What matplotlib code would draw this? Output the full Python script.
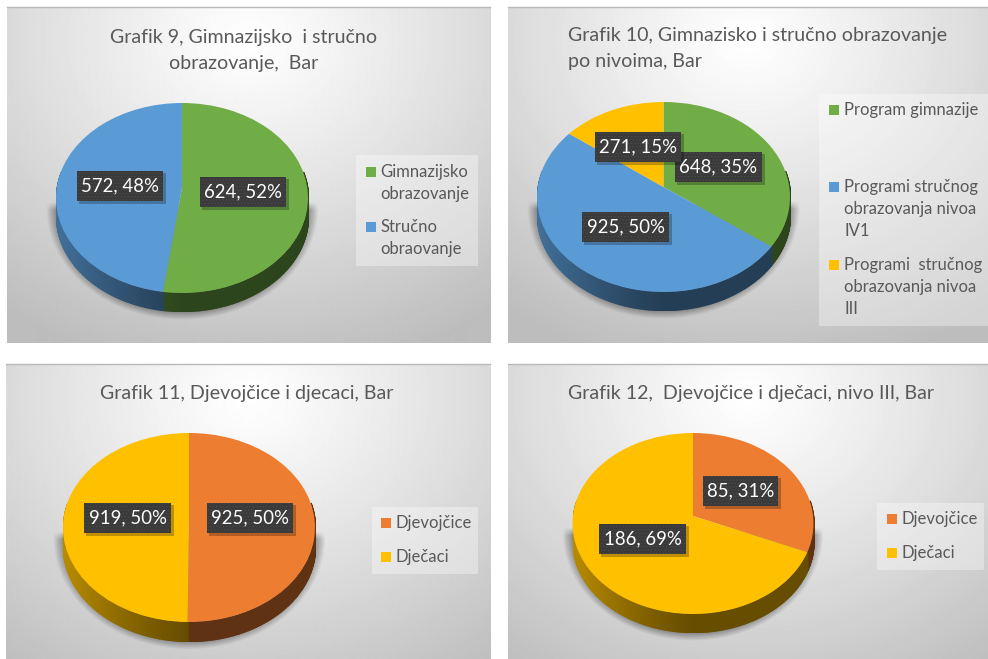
import numpy as np
import matplotlib
matplotlib.use('Agg')
import matplotlib.pyplot as plt
from matplotlib.patches import Rectangle
from matplotlib.transforms import Transform

plt.rcParams['font.family'] = ['Lato', 'DejaVu Sans']
plt.rcParams['hatch.linewidth'] = 0.5

W, H = 988, 659

# Data
values_9 = [624, 572]
labels_9 = ['Gimnazijsko\nobrazovanje', 'Stručno\nobraovanje']
values_10 = [648, 925, 271]
labels_10 = ['Program gimnazije', 'Programi stručnog\nobrazovanja nivoa\nIV1',
             'Programi  stručnog\nobrazovanja nivoa\nIII']
values_11 = [925, 919]
labels_11 = ['Djevojčice', 'Dječaci']
values_12 = [85, 186]
labels_12 = ['Djevojčice', 'Dječaci']

titles = [
    ['Grafik 9, Gimnazijsko  i stručno', 'obrazovanje,  Bar'],
    ['Grafik 10, Gimnazisko i stručno obrazovanje', 'po nivoima, Bar'],
    ['Grafik 11, Djevojčice i djecaci, Bar'],
    ['Grafik 12,  Djevojčice i dječaci, nivo III, Bar'],
]

GREEN, BLUE, ORANGE, YELLOW = '#70AD47', '#5B9BD5', '#ED7D31', '#FFC000'
TEXT = '#595959'

# Layout in pixels of the picture
charts = [
    dict(values=values_9, labels=labels_9, colors=[GREEN, BLUE],
         panel=(7, 7, 490, 343), pie=(182, 198, 126, 95, 18), tilt=0.105,
         title_x=244, title_y=[37, 64], title_ha='center',
         boxes=[(200, 177, 86), (77, 171, 86)],
         legend_box=(356, 155, 478, 266), sq_x=366, text_x=380, leg_y=[172, 227]),
    dict(values=values_10, labels=labels_10, colors=[GREEN, BLUE, YELLOW],
         panel=(508, 7, 988, 343), pie=(663.5, 197, 126.5, 95, 18), tilt=0.105,
         title_x=568, title_y=[35, 61], title_ha='left',
         boxes=[(675, 152, 87), (582, 212, 87), (595, 132, 86)],
         legend_box=(819, 94, 988, 326), sq_x=829, text_x=844, leg_y=[110, 187, 265]),
    dict(values=values_11, labels=labels_11, colors=[ORANGE, YELLOW],
         panel=(6, 364, 490, 659), pie=(189, 527.5, 126, 94.5, 19), tilt=0.09,
         title_x=247, title_y=[393], title_ha='center',
         boxes=[(207, 503, 86), (84, 503, 87)],
         legend_box=(372, 507, 478, 574), sq_x=381, text_x=395, leg_y=[523, 557]),
    dict(values=values_12, labels=labels_12, colors=[ORANGE, YELLOW],
         panel=(508, 364, 988, 659), pie=(693, 523.5, 120.5, 90.5, 18), tilt=0.083,
         title_x=751, title_y=[393], title_ha='center',
         boxes=[(703, 476, 75), (599, 524, 87)],
         legend_box=(877, 503, 984, 570), sq_x=887, text_x=901, leg_y=[519, 553]),
]


def tilted(x, y, k):
    # perspective map: keeps the unit circle, moves its centre up by k
    den = 1 + k * y
    return x * np.sqrt(1 - k ** 2) / den, (y + k) / den


class Tilt(Transform):
    input_dims = output_dims = 2
    has_inverse = False

    def __init__(self, k):
        super().__init__()
        self.k = k

    def transform_non_affine(self, values):
        x, y = tilted(values[:, 0], values[:, 1], self.k)
        return np.column_stack([x, y])


fig = plt.figure(figsize=(W / 100, H / 100), dpi=100, facecolor='white')


def pixel_axes(zorder):
    ax = fig.add_axes([0, 0, 1, 1], zorder=zorder)
    ax.patch.set_alpha(0)
    ax.axis('off')
    return ax


base = pixel_axes(0)
top = pixel_axes(2)

for c, title_lines in zip(charts, titles):
    x0, y0, x1, y1 = c['panel']
    cx, cy, rx, ry, depth = c['pie']
    k = c['tilt']

    # panel background
    xx, yy = np.meshgrid(np.arange(x0, x1) + 0.5, np.arange(y0, y1) + 0.5)
    u = (xx - x0) / (x1 - x0) - 0.5
    v = (yy - y0) / 336 - 0.1
    r = np.sqrt(u ** 2 + (0.85 * v) ** 2) / 0.85
    grey = 1 - 0.26 * np.clip(r, 0, 1) ** 1.1
    base.imshow(grey, cmap='gray', vmin=0, vmax=1, extent=(x0, x1, y1, y0),
                interpolation='bilinear', aspect='auto')
    base.plot([x0, x1], [y0, y0], color='#b8b8b8', lw=1)

    # soft shadow under the pie
    d = np.sqrt(((xx - cx) / (rx + 10)) ** 2 + ((yy - cy - depth * 0.55) / (ry + 17)) ** 2)
    alpha = 0.38 * np.clip((1 - d) / 0.08, 0, 1) * np.clip((yy - cy - 4) / 8, 0, 1)
    rgba = np.zeros(grey.shape + (4,))
    rgba[..., 3] = alpha
    base.imshow(rgba, extent=(x0, x1, y1, y0), interpolation='bilinear', aspect='auto')

    # pie: its own axes, stretched to an ellipse
    dep = depth / ry
    ax = fig.add_axes([(cx - rx) / W, 1 - (cy + ry + depth) / H, 2 * rx / W, (2 * ry + depth) / H],
                      zorder=1)
    wedges, _ = ax.pie(c['values'], colors=c['colors'], startangle=90, counterclock=False,
                       radius=1, wedgeprops=dict(linewidth=0))
    ax.set_aspect('auto')
    ax.set_xlim(-1, 1)
    ax.set_ylim(-1 - dep, 1)
    for w in wedges:
        w.set_transform(Tilt(k) + ax.transData)
        w.set_zorder(2)

    # side wall, front half only, darker to the right
    ends = np.cumsum(c['values']) / np.sum(c['values']) * 360
    starts = np.r_[0, ends[:-1]]
    for a0, a1, col in zip(starts, ends, c['colors']):
        rgb = np.array(matplotlib.colors.to_rgb(col))
        lo, hi = max(a0, 80), min(a1, 280)
        if hi <= lo:
            continue
        n = int(hi - lo) + 1
        edges = np.radians(np.linspace(lo, hi, n + 1))
        for t0, t1 in zip(edges[:-1], edges[1:]):
            xs, ys = tilted(np.sin([t0, t1]), np.cos([t0, t1]), k)
            shade = 0.4 + 0.32 * np.clip(-xs.mean(), 0, 1) ** 1.2
            ax.fill_between(xs, ys, ys - dep, color=rgb * shade, lw=1.0, zorder=1)

    # title
    for line, ty in zip(title_lines, c['title_y']):
        top.text(c['title_x'], ty, line, fontsize=14.1, color=TEXT,
                 ha=c['title_ha'], va='center')

    # data labels
    total = sum(c['values'])
    for val, (bx, by, bw) in zip(c['values'], c['boxes']):
        bh = 30
        top.add_patch(Rectangle((bx + 2, by + 2), bw + 1, bh + 1, fc='black', alpha=0.25, lw=0))
        top.add_patch(Rectangle((bx, by), bw, bh, fc='#3a3a3a', ec='#4c4c4c', hatch='.....', lw=0))
        top.text(bx + bw / 2, by + bh / 2, f'{val}, {round(val / total * 100)}%',
                 color='white', fontsize=13.4, ha='center', va='center')

    # legend
    lx0, ly0, lx1, ly1 = c['legend_box']
    top.add_patch(Rectangle((lx0, ly0), lx1 - lx0, ly1 - ly0, fc='white', alpha=0.35, lw=0))
    for lab, col, ly in zip(c['labels'], c['colors'], c['leg_y']):
        top.add_patch(Rectangle((c['sq_x'], ly - 5), 10, 10, fc=col, lw=0))
        for i, part in enumerate(lab.split('\n')):
            top.text(c['text_x'], ly + i * 21.8, part, fontsize=12, color=TEXT,
                     ha='left', va='center')

for a in (base, top):
    a.set_xlim(0, W)
    a.set_ylim(H, 0)

fig.savefig('out.png', dpi=100)
